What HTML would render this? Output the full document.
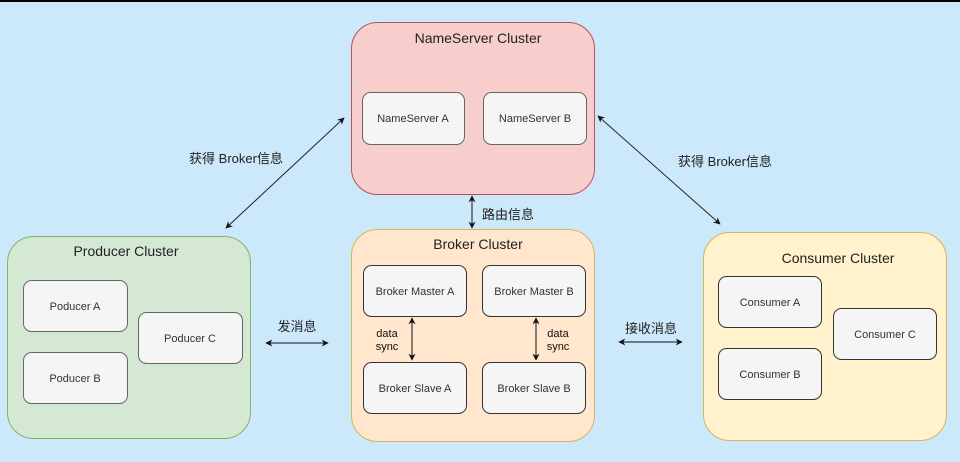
<!DOCTYPE html>
<html><head><meta charset="utf-8"><style>
body{margin:0;background:#cce8fb}
svg{display:block}
text{font-family:"Liberation Sans","Noto Sans CJK SC",sans-serif;}
</style></head><body>
<svg width="960" height="462" viewBox="0 0 960 462" xmlns="http://www.w3.org/2000/svg">
<defs>
<marker id="a" viewBox="0 0 10 10" refX="9" refY="5" markerWidth="7" markerHeight="7" orient="auto-start-reverse" markerUnits="userSpaceOnUse"><path d="M0,0 L10,5 L0,10 L3,5 z" fill="#111"/></marker>
</defs>
<rect width="960" height="462" fill="#cce8fb"/>
<rect x="0" y="0" width="960" height="2" fill="#000"/>
<!-- NameServer -->
<rect x="351.5" y="22.5" width="243" height="172" rx="26" fill="#f8cecc" stroke="#b85450"/>
<text x="478" y="43" font-size="14" text-anchor="middle" fill="#222">NameServer Cluster</text>
<rect x="362.5" y="92.5" width="102" height="52" rx="8" fill="#f5f5f5" stroke="#666"/>
<text x="413" y="122" font-size="11" text-anchor="middle" fill="#333">NameServer A</text>
<rect x="483.5" y="92.5" width="103" height="52" rx="8" fill="#f5f5f5" stroke="#666"/>
<text x="535" y="122" font-size="11" text-anchor="middle" fill="#333">NameServer B</text>
<!-- Broker -->
<rect x="351.5" y="229.5" width="243" height="212" rx="26" fill="#ffe6cc" stroke="#d6b656"/>
<text x="478" y="249" font-size="14" text-anchor="middle" fill="#222">Broker Cluster</text>
<rect x="363.5" y="265.5" width="103" height="51" rx="8" fill="#f5f5f5" stroke="#333"/>
<text x="415" y="295" font-size="11" text-anchor="middle" fill="#333">Broker Master A</text>
<rect x="482.5" y="265.5" width="103" height="51" rx="8" fill="#f5f5f5" stroke="#333"/>
<text x="534" y="295" font-size="11" text-anchor="middle" fill="#333">Broker Master B</text>
<rect x="363.5" y="362.5" width="103" height="51" rx="8" fill="#f5f5f5" stroke="#333"/>
<text x="415" y="392" font-size="11" text-anchor="middle" fill="#333">Broker Slave A</text>
<rect x="482.5" y="362.5" width="103" height="51" rx="8" fill="#f5f5f5" stroke="#333"/>
<text x="534" y="392" font-size="11" text-anchor="middle" fill="#333">Broker Slave B</text>
<line x1="412" y1="318" x2="412" y2="360" stroke="#111" marker-start="url(#a)" marker-end="url(#a)"/>
<line x1="536" y1="318" x2="536" y2="360" stroke="#111" marker-start="url(#a)" marker-end="url(#a)"/>
<text x="387" y="337" font-size="11" text-anchor="middle" fill="#111">data</text>
<text x="387" y="350" font-size="11" text-anchor="middle" fill="#111">sync</text>
<text x="558" y="337" font-size="11" text-anchor="middle" fill="#111">data</text>
<text x="558" y="350" font-size="11" text-anchor="middle" fill="#111">sync</text>
<!-- Producer -->
<rect x="7.5" y="236.5" width="243" height="202" rx="26" fill="#d5e8d4" stroke="#82b366"/>
<text x="126" y="256" font-size="14" text-anchor="middle" fill="#222">Producer Cluster</text>
<rect x="23.5" y="280.5" width="104" height="51" rx="8" fill="#f5f5f5" stroke="#666"/>
<text x="75" y="310" font-size="11" text-anchor="middle" fill="#333">Poducer A</text>
<rect x="23.5" y="352.5" width="104" height="51" rx="8" fill="#f5f5f5" stroke="#666"/>
<text x="75" y="382" font-size="11" text-anchor="middle" fill="#333">Poducer B</text>
<rect x="138.5" y="312.5" width="104" height="51" rx="8" fill="#f5f5f5" stroke="#666"/>
<text x="190" y="342" font-size="11" text-anchor="middle" fill="#333">Poducer C</text>
<!-- Consumer -->
<rect x="703.5" y="232.5" width="243" height="208" rx="26" fill="#fff2cc" stroke="#d6b656"/>
<text x="838" y="263" font-size="14" text-anchor="middle" fill="#222">Consumer Cluster</text>
<rect x="718.5" y="276.5" width="103" height="51" rx="8" fill="#f5f5f5" stroke="#333"/>
<text x="770" y="306" font-size="11" text-anchor="middle" fill="#333">Consumer A</text>
<rect x="718.5" y="348.5" width="103" height="51" rx="8" fill="#f5f5f5" stroke="#333"/>
<text x="770" y="378" font-size="11" text-anchor="middle" fill="#333">Consumer  B</text>
<rect x="833.5" y="308.5" width="103" height="51" rx="8" fill="#f5f5f5" stroke="#333"/>
<text x="885" y="338" font-size="11" text-anchor="middle" fill="#333">Consumer C</text>
<!-- connectors -->
<line x1="226" y1="228" x2="344" y2="118" stroke="#222" marker-start="url(#a)" marker-end="url(#a)"/>
<line x1="598" y1="116" x2="720" y2="224" stroke="#222" marker-start="url(#a)" marker-end="url(#a)"/>
<line x1="472" y1="196" x2="472" y2="228" stroke="#111" marker-start="url(#a)" marker-end="url(#a)"/>
<line x1="266" y1="343" x2="328" y2="343" stroke="#111" marker-start="url(#a)" marker-end="url(#a)"/>
<line x1="619" y1="342" x2="682" y2="342" stroke="#111" marker-start="url(#a)" marker-end="url(#a)"/>
<text x="236" y="163" font-size="13" text-anchor="middle" fill="#222">获得 Broker信息</text>
<text x="725" y="166" font-size="13" text-anchor="middle" fill="#222">获得 Broker信息</text>
<text x="508" y="219" font-size="13" text-anchor="middle" fill="#222">路由信息</text>
<text x="297" y="331" font-size="13" text-anchor="middle" fill="#222">发消息</text>
<text x="651" y="333" font-size="13" text-anchor="middle" fill="#222">接收消息</text>
</svg>
</body></html>
